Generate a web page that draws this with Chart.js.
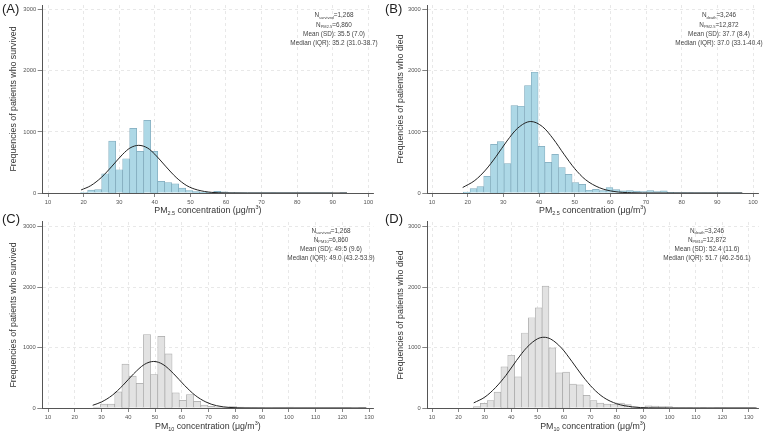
<!DOCTYPE html>
<html>
<head>
<meta charset="utf-8">
<script src="https://cdn.jsdelivr.net/npm/chart.js@4.4.1/dist/chart.umd.min.js"></script>
<style>
  body { margin: 0; background: #fff; }
  #wrap { position: relative; width: 767px; height: 435px; font-family: "Liberation Sans", Arial, sans-serif; }
  canvas { position: absolute; }
  .tag { position: absolute; font-size: 13px; line-height: 13px; color: #222; }
</style>
</head>
<body>
<div id="wrap">
  <canvas id="chartA" width="383" height="217" style="left:0;top:0"></canvas>
  <canvas id="chartB" width="384" height="217" style="left:383px;top:0"></canvas>
  <canvas id="chartC" width="383" height="218" style="left:0;top:217px"></canvas>
  <canvas id="chartD" width="384" height="218" style="left:383px;top:217px"></canvas>
  <div class="tag" style="left:2px;top:2px">(A)</div>
  <div class="tag" style="left:385px;top:2px">(B)</div>
  <div class="tag" style="left:2px;top:212px">(C)</div>
  <div class="tag" style="left:385px;top:212px">(D)</div>
</div>
<script>
  // tick labels
  const pm25Ticks = [10, 20, 30, 40, 50, 60, 70, 80, 90, 100];
  const pm10Ticks = [10, 20, 30, 40, 50, 60, 70, 80, 90, 100, 110, 120, 130];
  const freqTicks = [0, 1000, 2000, 3000];

  // (A) PM2.5, survived
  const binStartA = 19.17, binWidthA = 1.967;
  const countsA = [8, 46, 57, 315, 850, 381, 561, 1058, 681, 1190, 681, 189, 172, 151, 79, 41, 22, 12, 10, 27,
    18, 8, 3, 3, 2, 2, 2, 4, 2, 2, 1, 1, 1, 1, 1, 1, 0, 1];
  const curveXA = [19.3, 22, 25, 28, 31, 33, 35.5, 38, 40, 43, 46, 49, 52, 56, 60, 66, 94];
  const curveYA = [50, 120, 255, 440, 635, 735, 780, 735, 635, 440, 255, 120, 50, 10, 2, 0, 0];

  // (B) PM2.5, died
  const binStartB = 18.78, binWidthB = 1.906;
  const countsB = [16, 71, 104, 273, 797, 841, 480, 1430, 1420, 1758, 1977, 765, 502, 633, 415, 306, 169, 142, 45, 60,
    40, 90, 55, 35, 40, 30, 25, 40, 25, 35, 10, 6, 5, 4, 3, 3, 2, 2, 2, 1, 1];
  const curveXB = [18.6, 22, 25, 28, 31, 34, 37.7, 41, 44, 47, 50, 53, 57, 61, 66, 72, 97];
  const curveYB = [90, 205, 375, 600, 850, 1060, 1170, 1085, 885, 635, 400, 220, 85, 25, 4, 0, 0];

  // (C) PM10, survived
  const binStartC = 26.9, binWidthC = 2.68;
  const countsC = [15, 65, 65, 267, 725, 529, 409, 1216, 551, 1184, 895, 251, 125, 224, 109, 49, 27, 15, 10, 25,
    15, 10, 5, 4, 8, 3, 3, 15, 3, 2, 2, 1, 1, 1, 1, 1, 0, 1];
  const curveXC = [26.7, 30, 34, 38, 42, 46, 49.5, 53, 57, 61, 65, 69, 73, 78, 84, 90, 129];
  const curveYC = [45, 100, 210, 375, 565, 720, 770, 720, 565, 375, 210, 100, 38, 9, 1, 0, 0];

  // (D) PM10, died
  const binStartD = 25.7, binWidthD = 2.6;
  const countsD = [22, 77, 121, 264, 681, 873, 516, 1241, 1493, 1658, 2015, 994, 582, 593, 395, 384, 209, 121, 82, 66,
    55, 82, 55, 20, 15, 35, 30, 25, 25, 10, 5, 5, 8, 6, 8, 5, 4, 3, 2, 2, 2];
  const curveXD = [25.8, 30, 34, 38, 42, 46, 50, 52.4, 55, 59, 63, 67, 71, 75, 80, 86, 92, 100, 133];
  const curveYD = [85, 180, 335, 540, 785, 1005, 1145, 1170, 1140, 995, 770, 530, 325, 175, 70, 18, 3, 0, 0];

  const FONT = '"Liberation Sans", Arial, sans-serif';

  // draws a line of text with sub/superscript pieces, centred on cx
  function drawRich(ctx, segs, cx, cy, size) {
    const parts = segs.map(([t, m]) => {
      const s = m ? size * 0.62 : size;
      ctx.font = s + 'px ' + FONT;
      return { t, s, w: ctx.measureText(t).width, dy: m === 'sub' ? size * 0.3 : m === 'sup' ? -size * 0.36 : 0 };
    });
    let x = cx - parts.reduce((a, p) => a + p.w, 0) / 2;
    ctx.textBaseline = 'middle';
    ctx.textAlign = 'left';
    parts.forEach(p => {
      ctx.font = p.s + 'px ' + FONT;
      ctx.fillText(p.t, x, cy + p.dy);
      x += p.w;
    });
  }

  const textPlugin = {
    id: 'panelText',
    afterDraw(chart, args, opts) {
      const ctx = chart.ctx;
      const area = chart.chartArea;
      ctx.save();
      ctx.fillStyle = '#333';
      drawRich(ctx, opts.xTitle, (area.left + area.right) / 2, opts.xTitleY, 8.8);
      ctx.fillStyle = '#444';
      opts.notes.forEach((line, i) => drawRich(ctx, line, opts.noteX, opts.noteY + i * 9.2, 6.4));
      ctx.restore();
    }
  };

  function makeChart(id, p) {
    const bars = p.counts.map((c, i) => ({ x: p.start + p.width * (i + 0.5), y: c }));
    const curve = p.curveX.map((x, i) => ({ x: x, y: p.curveY[i] }));
    const canvas = document.getElementById(id);
    return new Chart(canvas, {
      type: 'bar',
      data: {
        datasets: [
          {
            type: 'line', data: curve, order: 0,
            borderColor: '#222', borderWidth: 1, pointRadius: 0,
            cubicInterpolationMode: 'monotone', fill: false
          },
          {
            type: 'bar', data: bars, order: 1,
            backgroundColor: p.fill, borderColor: p.edge, borderWidth: 0.7,
            barPercentage: 1, categoryPercentage: 1
          }
        ]
      },
      options: {
        responsive: false,
        devicePixelRatio: 1,
        animation: false,
        layout: { padding: { left: 0, top: p.top, right: canvas.width - p.right, bottom: 0 } },
        plugins: {
          legend: { display: false },
          tooltip: { enabled: false },
          panelText: { xTitle: p.xTitle, xTitleY: p.xTitleY, notes: p.notes, noteX: p.noteX, noteY: p.noteY }
        },
        scales: {
          x: {
            type: 'linear', min: p.xMin, max: p.xMax, offset: false,
            afterBuildTicks: s => { s.ticks = p.xTicks.map(v => ({ value: v })); },
            afterFit: s => { s.height = canvas.height - p.bottom; },
            ticks: { font: { size: 5.8, family: FONT }, color: '#555', padding: 2, maxRotation: 0, autoSkip: false },
            grid: { offset: false, color: '#e2e2e2', lineWidth: 0.8, tickLength: 4, tickColor: '#666', tickWidth: 0.8 },
            border: { display: true, color: '#555', width: 1, dash: [3, 3] }
          },
          y: {
            min: 0, max: 3077,
            afterBuildTicks: s => { s.ticks = freqTicks.map(v => ({ value: v })); },
            afterFit: s => { s.width = p.left; },
            ticks: { font: { size: 5.8, family: FONT }, color: '#555', padding: 1.5, callback: v => String(v) },
            grid: { color: '#e2e2e2', lineWidth: 0.8, tickLength: 5, tickColor: '#666', tickWidth: 0.8 },
            border: { display: true, color: '#555', width: 1, dash: [3, 3] },
            title: {
              display: true, text: p.yTitle, color: '#333',
              font: { size: 8.8, family: FONT }, padding: { top: p.yTitlePad, bottom: 0 }
            }
          }
        }
      },
      plugins: [textPlugin]
    });
  }

  const blue = 'rgb(173, 216, 230)', blueEdge = 'rgb(128, 170, 188)';
  const grey = 'rgb(226, 226, 226)', greyEdge = 'rgb(168, 168, 168)';
  const pm25Title = [['PM', ''], ['2.5', 'sub'], [' concentration (μg/m', ''], ['3', 'sup'], [')', '']];
  const pm10Title = [['PM', ''], ['10', 'sub'], [' concentration (μg/m', ''], ['3', 'sup'], [')', '']];

  makeChart('chartA', {
    counts: countsA, start: binStartA, width: binWidthA, curveX: curveXA, curveY: curveYA,
    fill: blue, edge: blueEdge, xTicks: pm25Ticks, xMin: 8.51, xMax: 101.3,
    left: 42.7, right: 373, top: 5, bottom: 193, yTitlePad: 8,
    yTitle: 'Frequencies of patients who survived', xTitle: pm25Title, xTitleY: 210.5,
    noteX: 334, noteY: 15.7,
    notes: [
      [['N', ''], ['survived', 'sub'], ['=1,268', '']],
      [['N', ''], ['PM2.5', 'sub'], ['=6,860', '']],
      [['Mean (SD): 35.5 (7.0)', '']],
      [['Median (IQR): 35.2 (31.0-38.7)', '']]
    ]
  });

  makeChart('chartB', {
    counts: countsB, start: binStartB, width: binWidthB, curveX: curveXB, curveY: curveYB,
    fill: blue, edge: blueEdge, xTicks: pm25Ticks, xMin: 8.68, xMax: 101.4,
    left: 44.3, right: 375, top: 5, bottom: 193, yTitlePad: 12,
    yTitle: 'Frequencies of patients who died', xTitle: pm25Title, xTitleY: 210.5,
    noteX: 336, noteY: 15.7,
    notes: [
      [['N', ''], ['death', 'sub'], ['=3,246', '']],
      [['N', ''], ['PM2.5', 'sub'], ['=12,872', '']],
      [['Mean (SD): 37.7 (8.4)', '']],
      [['Median (IQR): 37.0 (33.1-40.4)', '']]
    ]
  });

  makeChart('chartC', {
    counts: countsC, start: binStartC, width: binWidthC, curveX: curveXC, curveY: curveYC,
    fill: grey, edge: greyEdge, xTicks: pm10Ticks, xMin: 7.86, xMax: 131.6,
    left: 42.3, right: 373.3, top: 4, bottom: 191, yTitlePad: 8,
    yTitle: 'Frequencies of patients who survived', xTitle: pm10Title, xTitleY: 209.5,
    noteX: 331, noteY: 14,
    notes: [
      [['N', ''], ['survived', 'sub'], ['=1,268', '']],
      [['N', ''], ['PM10', 'sub'], ['=6,860', '']],
      [['Mean (SD): 49.5 (9.6)', '']],
      [['Median (IQR): 49.0 (43.2-53.9)', '']]
    ]
  });

  makeChart('chartD', {
    counts: countsD, start: binStartD, width: binWidthD, curveX: curveXD, curveY: curveYD,
    fill: grey, edge: greyEdge, xTicks: pm10Ticks, xMin: 8.2, xMax: 133.8,
    left: 44.3, right: 375.7, top: 4, bottom: 191, yTitlePad: 12,
    yTitle: 'Frequencies of patients who died', xTitle: pm10Title, xTitleY: 209.5,
    noteX: 324, noteY: 14,
    notes: [
      [['N', ''], ['death', 'sub'], ['=3,246', '']],
      [['N', ''], ['PM10', 'sub'], ['=12,872', '']],
      [['Mean (SD): 52.4 (11.6)', '']],
      [['Median (IQR): 51.7 (46.2-56.1)', '']]
    ]
  });
</script>
</body>
</html>
